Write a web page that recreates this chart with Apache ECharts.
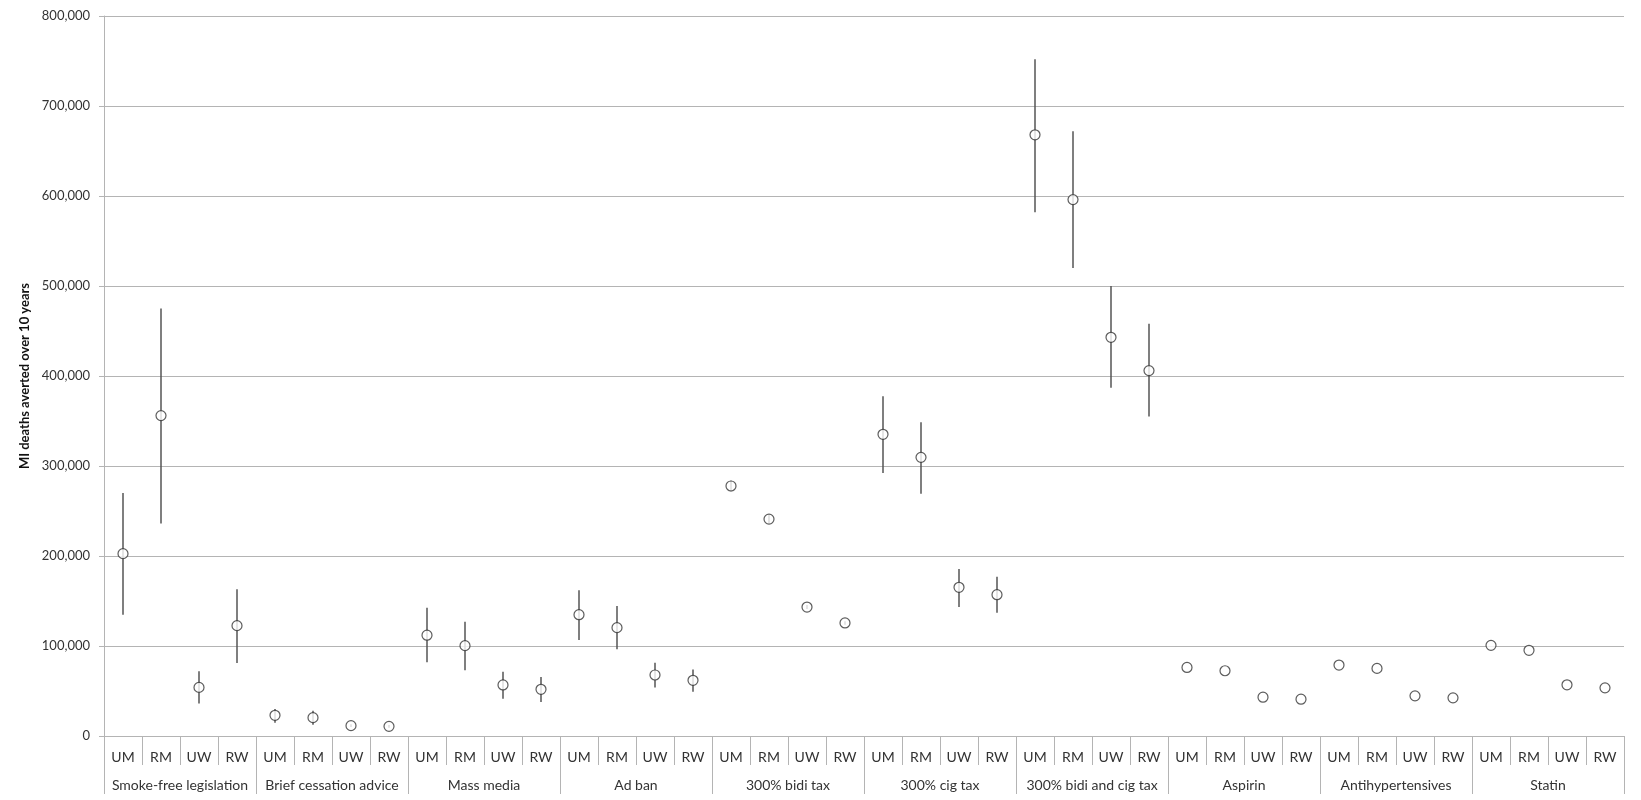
<!DOCTYPE html>
<html>
<head>
<meta charset="utf-8">
<script src="https://cdn.jsdelivr.net/npm/echarts@6/dist/echarts.min.js"></script>
<style>
    html, body {margin: 0; padding: 0; background: #fff;}
    #chart {width: 1641px; height: 800px;}
</style>
</head>
<body>
<div id="chart"></div>
<script>
// interventions (second axis level) and population subgroups (first level)
const groups = ['Smoke-free legislation', 'Brief cessation advice', 'Mass media', 'Ad ban', '300% bidi tax',
    '300% cig tax', '300% bidi and cig tax', 'Aspirin', 'Antihypertensives', 'Statin'];
const subgroups = ['UM', 'RM', 'UW', 'RW'];

// central estimate and uncertainty range, in group order, UM/RM/UW/RW each
const mid = [
    202600, 356000, 54000, 122600,
    23000, 20400, 11500, 10700,
    112000, 100400, 56700, 51900,
    134800, 120400, 67800, 61900,
    277800, 241000, 143300, 125600,
    335200, 309600, 165200, 157000,
    668000, 596000, 443000, 406000,
    76200, 72500, 43100, 40900,
    78800, 75100, 44600, 42400,
    100700, 95200, 56900, 53500
];
const low = [
    134800, 236000, 36000, 81000,
    14800, 12600, 10000, 9300,
    82000, 73000, 41500, 37800,
    106700, 96300, 54000, 49300,
    272000, 236500, 141000, 123500,
    292200, 269300, 143300, 137000,
    582000, 520000, 387000, 355000,
    76200, 72500, 43100, 40900,
    78800, 75100, 44600, 42400,
    100700, 95200, 56900, 53500
];
const high = [
    270000, 475000, 72000, 163000,
    30000, 28000, 13000, 12100,
    142600, 127000, 71500, 65600,
    161900, 144400, 81500, 74000,
    283500, 245500, 145500, 127500,
    377400, 348500, 185600, 177000,
    752000, 672000, 500000, 458000,
    76200, 72500, 43100, 40900,
    78800, 75100, 44600, 42400,
    100700, 95200, 56900, 53500
];

const yTicks = {min: 0, max: 800000, step: 100000};

const FONT = 'Lato';
const TEXT = '#333333';
const LINE = '#b4b4b4';

let categories = [];
groups.forEach(function (g) {
    subgroups.forEach(function (s) {
        categories.push(s);
    });
});
const points = mid.map(function (v, i) { return [i, v]; });
const bars = mid.map(function (v, i) { return [i, low[i], high[i]]; });

const myChart = echarts.init(document.getElementById('chart'), null, {renderer: 'canvas'});

const option = {
    backgroundColor: '#ffffff',
    animation: false,
    textStyle: {fontFamily: FONT},
    grid: {
        left: 104,
        right: 17,
        top: 16,
        bottom: 64,
        containLabel: false
    },
    xAxis: [{
        type: 'category',
        data: categories,
        position: 'bottom',
        offset: 0,
        axisLine: {show: true, lineStyle: {color: LINE, width: 1}},
        axisTick: {show: true, length: 29, interval: 0, lineStyle: {color: LINE}},
        axisLabel: {interval: 0, margin: 14, fontSize: 14, color: TEXT, fontFamily: FONT},
        splitLine: {show: false}
    }, {
        type: 'category',
        data: groups,
        position: 'bottom',
        offset: 0,
        axisLine: {show: false},
        axisTick: {show: true, length: 58, interval: 0, lineStyle: {color: LINE}},
        axisLabel: {interval: 0, margin: 42, fontSize: 14, color: TEXT, fontFamily: FONT},
        splitLine: {show: false}
    }],
    yAxis: {
        type: 'value',
        min: yTicks.min,
        max: yTicks.max,
        interval: yTicks.step,
        name: 'MI deaths averted over 10 years',
        nameLocation: 'middle',
        nameRotate: 90,
        nameGap: 73,
        nameTextStyle: {fontSize: 13, fontWeight: 'bold', color: '#111', fontFamily: FONT},
        axisLine: {show: true, lineStyle: {color: LINE, width: 1}},
        axisTick: {show: true, length: 5, lineStyle: {color: LINE}},
        axisLabel: {
            margin: 14,
            fontSize: 13,
            color: TEXT,
            fontFamily: FONT,
            formatter: function (value) {
                return value.toLocaleString('en-US');
            }
        },
        splitLine: {show: true, lineStyle: {color: LINE, width: 1}}
    },
    series: [{
        name: 'range',
        type: 'custom',
        xAxisIndex: 0,
        data: bars,
        encode: {x: 0, y: [1, 2]},
        z: 2,
        renderItem: function (params, api) {
            const p1 = api.coord([api.value(0), api.value(1)]);
            const p2 = api.coord([api.value(0), api.value(2)]);
            return {
                type: 'line',
                shape: {x1: p1[0], y1: p1[1], x2: p2[0], y2: p2[1]},
                style: {stroke: '#555555', lineWidth: 1.5}
            };
        }
    }, {
        name: 'estimate',
        type: 'scatter',
        xAxisIndex: 0,
        data: points,
        symbol: 'circle',
        symbolSize: 10,
        z: 3,
        itemStyle: {color: '#ffffff', borderColor: '#333333', borderWidth: 1.2}
    }]
};

myChart.setOption(option);
</script>
</body>
</html>
